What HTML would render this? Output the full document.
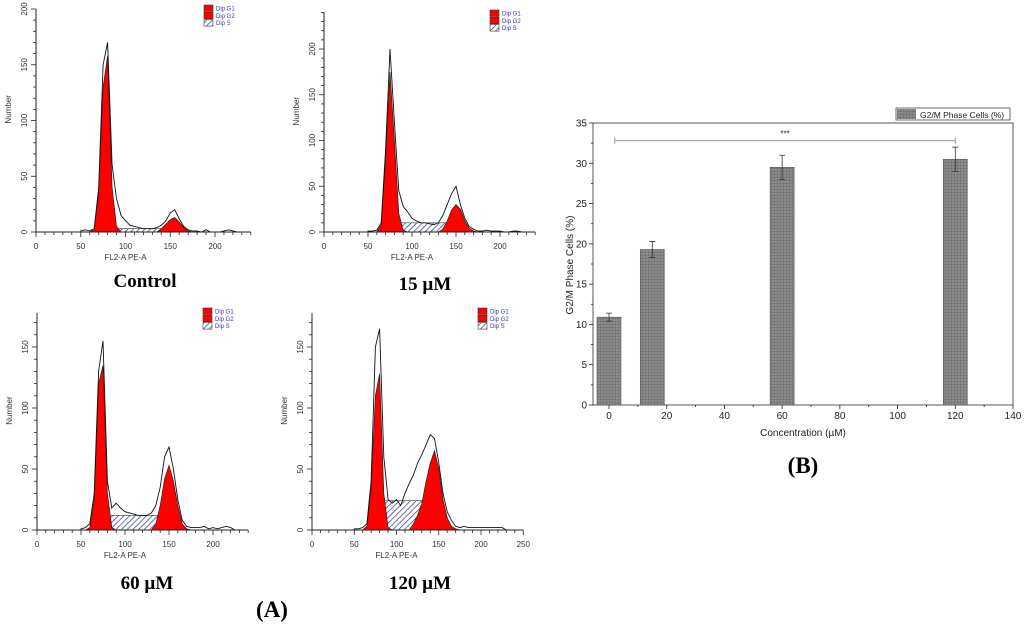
<!DOCTYPE html>
<html><head><meta charset="utf-8"><style>
html,body{margin:0;padding:0;background:#fff;}
svg{display:block;font-family:"Liberation Sans",sans-serif;}
</style></head><body>
<svg id="fig" width="1024" height="624" viewBox="0 0 1024 624">
<defs>
<pattern id="hatch" width="4" height="4" patternUnits="userSpaceOnUse" patternTransform="rotate(45)">
<rect width="4" height="4" fill="#fff"/><line x1="0" y1="0" x2="0" y2="4" stroke="#2e3380" stroke-width="1.4"/>
</pattern>
<pattern id="grid" width="3" height="3" patternUnits="userSpaceOnUse">
<rect width="3" height="3" fill="#8c8c8c"/><path d="M0 0H3M0 0V3" stroke="#5e5e5e" stroke-width="0.7"/>
</pattern>
</defs>
<g id="hists"></g>
<g id="bars"></g>
<text x="145" y="287" font-family="Liberation Serif" font-weight="bold" font-size="19" text-anchor="middle">Control</text>
<text x="425" y="290" font-family="Liberation Serif" font-weight="bold" font-size="19" text-anchor="middle">15 µM</text>
<text x="147" y="589" font-family="Liberation Serif" font-weight="bold" font-size="19" text-anchor="middle">60 µM</text>
<text x="420" y="589" font-family="Liberation Serif" font-weight="bold" font-size="19" text-anchor="middle">120 µM</text>
<text x="272" y="617" font-family="Liberation Serif" font-weight="bold" font-size="23" text-anchor="middle">(A)</text>
<text x="803" y="473" font-family="Liberation Serif" font-weight="bold" font-size="23" text-anchor="middle">(B)</text>
</svg>
<script>
// ---------- histogram data (bins 50..230 step 5) ----------
const binStart = 50, binStep = 5;
const ctrlTotal = [1,2,1,3,40,150,170,60,30,15,10,6,5,4,3,3,3,4,6,10,17,20,12,5,2,1,1,0,2,0,0,0,1,2,1,0,0];
const ctrlG1    = [0,0,0,2,35,130,158,40,5,0,0,0,0,0,0,0,0,0,0,0,0,0,0,0,0,0,0,0,0,0,0,0,0,0,0,0,0];
const ctrlG2    = [0,0,0,0,0,0,0,0,0,0,0,0,0,0,0,0,0,0,3,7,11,13,9,4,1,0,0,0,0,0,0,0,0,0,0,0,0];
const ctrlS     = [3, 85, 145];
const d15Total  = [1,1,2,10,90,200,120,45,28,22,15,12,10,10,9,8,10,18,30,42,50,30,15,6,3,1,1,2,1,1,1,0,0,1,1,0,0];
const d15G1     = [0,0,0,8,80,175,100,20,2,0,0,0,0,0,0,0,0,0,0,0,0,0,0,0,0,0,0,0,0,0,0,0,0,0,0,0,0];
const d15G2     = [0,0,0,0,0,0,0,0,0,0,0,0,0,0,0,0,0,3,12,24,30,25,12,4,1,0,0,0,0,0,0,0,0,0,0,0,0];
const d15S      = [10, 80, 145];
const d60Total  = [1,2,5,30,130,155,40,18,22,18,15,14,13,12,12,12,14,20,35,60,68,50,25,8,3,2,2,2,3,1,2,1,2,3,2,0,0];
const d60G1     = [0,0,2,25,120,135,30,2,0,0,0,0,0,0,0,0,0,0,0,0,0,0,0,0,0,0,0,0,0,0,0,0,0,0,0,0,0];
const d60G2     = [0,0,0,0,0,0,0,0,0,0,0,0,0,0,0,0,0,5,20,42,53,40,20,5,1,0,0,0,0,0,0,0,0,0,0,0,0];
const d60S      = [12, 80, 138];
const d120Total = [1,1,2,5,40,150,165,60,25,22,25,20,30,38,45,55,62,70,78,75,55,30,15,8,3,2,3,2,2,2,2,2,2,2,2,2,0];
const d120G1    = [0,0,0,3,35,110,128,30,2,0,0,0,0,0,0,0,0,0,0,0,0,0,0,0,0,0,0,0,0,0,0,0,0,0,0,0,0];
const d120G2    = [0,0,0,0,0,0,0,0,0,0,0,0,0,0,5,12,22,40,55,65,50,25,10,3,1,0,0,0,0,0,0,0,0,0,0,0,0];
const d120S     = [24, 85, 130];
const histXTicks = [0,50,100,150,200];
const histXTicks250 = [0,50,100,150,200,250];
const histYTicks200 = [0,50,100,150,200];
const histYTicks150 = [0,50,100,150];
const legendLabels = ["Dip G1","Dip G2","Dip S"];

// ---------- bar chart data ----------
const concentrations = [0,15,60,120];
const g2mValues = [10.9,19.3,29.5,30.5];
const g2mErrors = [0.5,1.0,1.5,1.5];
const barXTicks = [0,20,40,60,80,100,120,140];
const barYTicks = [0,5,10,15,20,25,30,35];
const sigSpan = [2,120];
const sigLevel = 32.8;

const NS = "http://www.w3.org/2000/svg";
function mk(tag, attrs, parent){const e=document.createElementNS(NS,tag);for(const k in attrs)e.setAttribute(k,attrs[k]);if(parent)parent.appendChild(e);return e;}

const panels = [
 {name:"control",ox:36,oy:232,sx:0.895,sy:1.115,xmax:240,ymax:200,xt:histXTicks,yt:histYTicks200,tot:ctrlTotal,g1:ctrlG1,g2:ctrlG2,s:ctrlS,lx:204,ly:5},
 {name:"15um",ox:324,oy:232,sx:0.88,sy:0.915,xmax:240,ymax:240,xt:histXTicks,yt:histYTicks200,tot:d15Total,g1:d15G1,g2:d15G2,s:d15S,lx:490,ly:10},
 {name:"60um",ox:37,oy:530,sx:0.88,sy:1.22,xmax:240,ymax:178,xt:histXTicks,yt:histYTicks150,tot:d60Total,g1:d60G1,g2:d60G2,s:d60S,lx:203,ly:308},
 {name:"120um",ox:312,oy:530,sx:0.845,sy:1.22,xmax:250,ymax:178,xt:histXTicks250,yt:histYTicks150,tot:d120Total,g1:d120G1,g2:d120G2,s:d120S,lx:478,ly:308}
];
const hg = document.getElementById("hists");
panels.forEach(p=>{
 const g = mk("g",{},hg);
 
 
 const X=v=>p.ox+v*p.sx, Y=v=>p.oy-v*p.sy;
 const bx=i=>binStart+i*binStep;
 const s = mk("rect",{x:X(p.s[1]),y:Y(p.s[0]),width:(p.s[2]-p.s[1])*p.sx,height:p.s[0]*p.sy,fill:"url(#hatch)",stroke:"#333","stroke-width":0.6},g);
 
 
 [[p.g1,'dip-g1-peak'],[p.g2,'dip-g2-peak']].forEach(([arr,nm])=>{
  let pts=[];arr.forEach((v,i)=>pts.push(X(bx(i)).toFixed(1)+","+Y(v).toFixed(1)));
  pts.push(X(bx(arr.length-1))+","+Y(0));pts.unshift(X(bx(0))+","+Y(0));
  const pg=mk("polygon",{points:pts.join(" "),fill:"#f00",stroke:"#222","stroke-width":0.7},g);
  
  
 });
 let d="M"+X(0)+","+Y(0)+" L"+X(bx(0))+","+Y(0);
 p.tot.forEach((v,i)=>{d+=" L"+X(bx(i)).toFixed(1)+","+Y(v).toFixed(1);});
 const ln=mk("path",{d:d,fill:"none",stroke:"#111","stroke-width":0.9},g);
 
 
 const ax=mk("path",{d:`M${X(0)},${Y(p.ymax)} V${Y(0)} H${X(p.xmax)}`,fill:"none",stroke:"#222","stroke-width":1},g);
 
 
 for(let v=0;v<=p.xmax;v+=10){mk("line",{x1:X(v),x2:X(v),y1:Y(0),y2:Y(0)+(v%50?3:5),stroke:"#222","stroke-width":0.8},g);}
 for(let v=0;v<=p.ymax;v+=10){mk("line",{x1:X(0),x2:X(0)-(v%50?3:5),y1:Y(v),y2:Y(v),stroke:"#222","stroke-width":0.8},g);}
 p.xt.forEach(v=>{const t=mk("text",{x:X(v),y:Y(0)+17,"font-size":8,fill:"#333","text-anchor":"middle"},g);t.textContent=v;
  
  });
 p.yt.forEach(v=>{const t=mk("text",{x:0,y:0,"font-size":8,fill:"#333","text-anchor":"middle",transform:`translate(${X(0)-9},${Y(v)}) rotate(-90)`},g);t.textContent=v;
  
  });
 const xl=mk("text",{x:X(100),y:Y(0)+28,"font-size":8,fill:"#333","text-anchor":"middle"},g);xl.textContent="FL2-A PE-A";
 
 
 const yl=mk("text",{x:0,y:0,"font-size":8,fill:"#333","text-anchor":"middle",transform:`translate(${X(0)-25},${Y(p.ymax*0.55)}) rotate(-90)`},g);yl.textContent="Number";
 
 
 legendLabels.forEach((lab,i)=>{
  const r=mk("rect",{x:p.lx,y:p.ly+i*7.3,width:9,height:6.5,fill:i<2?"#f00":"url(#hatch)",stroke:"#333","stroke-width":0.6},g);
  
  
  const t=mk("text",{x:p.lx+12,y:p.ly+i*7.3+5.5,"font-size":6,fill:"#3535b0"},g);t.textContent=lab;
  
  
 });
});

// ---------- bar chart ----------
const bg=document.getElementById("bars");
const BX=v=>609+v*(1013-609)/140, BY=v=>405-v*(405-123)/35;
const frame=mk("rect",{x:593,y:123,width:420,height:282,fill:"none",stroke:"#555","stroke-width":1},bg);


for(let v=0;v<=35;v+=2.5){mk("line",{x1:593,x2:593-(v%5?2:4),y1:BY(v),y2:BY(v),stroke:"#222","stroke-width":0.8},bg);}
for(let v=0;v<=140;v+=10){mk("line",{x1:BX(v),x2:BX(v),y1:405,y2:405+(v%20?2:4),stroke:"#222","stroke-width":0.8},bg);}
barYTicks.forEach(v=>{const t=mk("text",{x:587,y:BY(v)+3.5,"font-size":10,fill:"#222","text-anchor":"end"},bg);t.textContent=v;
 
 });
barXTicks.forEach(v=>{const t=mk("text",{x:BX(v),y:419,"font-size":10,fill:"#222","text-anchor":"middle"},bg);t.textContent=v;
 
 });
const bxl=mk("text",{x:803,y:436,"font-size":10,fill:"#222","text-anchor":"middle"},bg);bxl.textContent="Concentration (µM)";


const byl=mk("text",{x:0,y:0,"font-size":10,fill:"#222","text-anchor":"middle",transform:"translate(573,265) rotate(-90)"},bg);byl.textContent="G2/M Phase Cells (%)";


concentrations.forEach((c,i)=>{
 const r=mk("rect",{x:BX(c)-12,y:BY(g2mValues[i]),width:24,height:405-BY(g2mValues[i]),fill:"url(#grid)",stroke:"#555","stroke-width":0.6},bg);
 
 
 const hi=BY(g2mValues[i]+g2mErrors[i]), lo=BY(g2mValues[i]-g2mErrors[i]);
 const e=mk("path",{d:`M${BX(c)},${hi} V${lo} M${BX(c)-3},${hi} H${BX(c)+3} M${BX(c)-3},${lo} H${BX(c)+3}`,stroke:"#333","stroke-width":0.8,fill:"none"},bg);
 
 
});
const sl=mk("path",{d:`M${BX(sigSpan[0])},${BY(sigLevel)} H${BX(sigSpan[1])} M${BX(sigSpan[0])},${BY(sigLevel)-3} V${BY(sigLevel)+3} M${BX(sigSpan[1])},${BY(sigLevel)-3} V${BY(sigLevel)+3}`,stroke:"#777","stroke-width":0.8,fill:"none"},bg);


const st=mk("text",{x:(BX(sigSpan[0])+BX(sigSpan[1]))/2,y:BY(sigLevel)-4,"font-size":8,fill:"#222","text-anchor":"middle"},bg);st.textContent="***";


const lb=mk("rect",{x:896,y:108,width:114,height:12,fill:"#fff",stroke:"#444","stroke-width":0.8},bg);


const ls=mk("rect",{x:897,y:109,width:19,height:10,fill:"url(#grid)"},bg);


const lt=mk("text",{x:920,y:118,"font-size":8.5,fill:"#222"},bg);lt.textContent="G2/M Phase Cells (%)";


</script>
</body></html>
